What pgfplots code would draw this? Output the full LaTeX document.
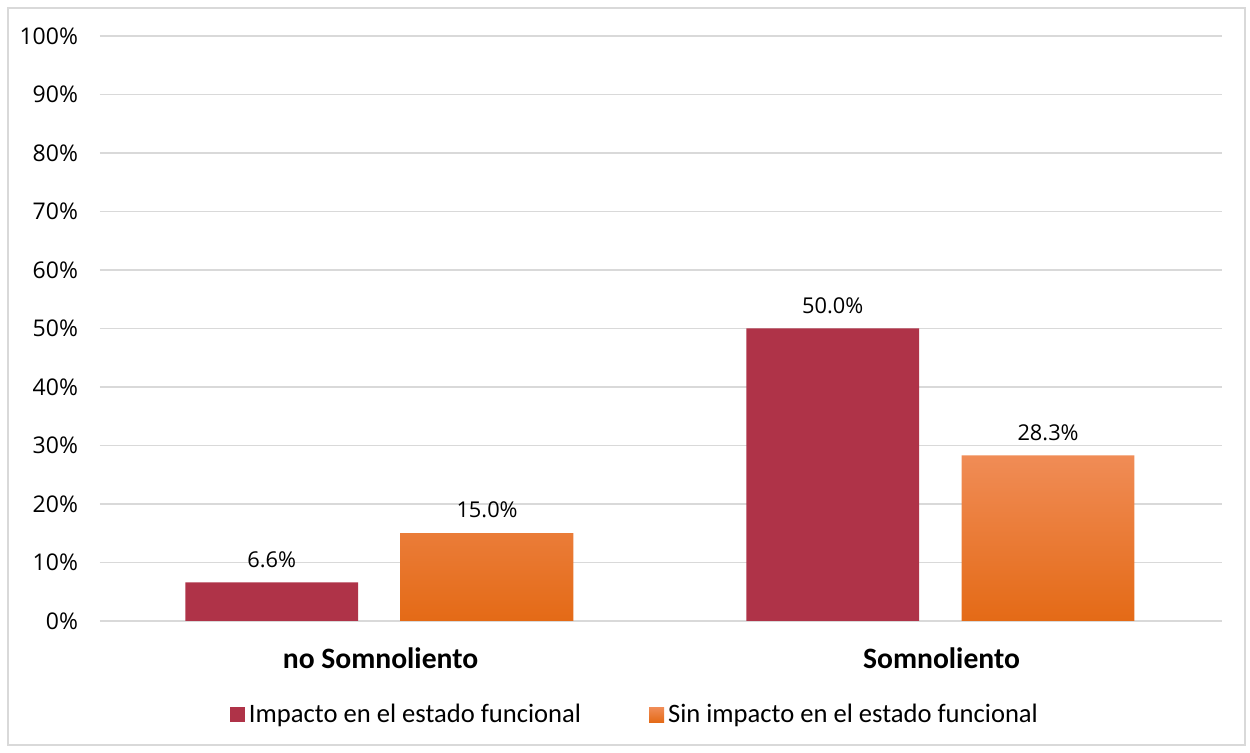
\documentclass[border=0pt]{standalone}
\usepackage{fontspec}
\setmainfont{Carlito}
\newfontfamily\osans{Open Sans}
\usepackage{pgfplots}
\pgfplotsset{compat=1.18}
\definecolor{barred}{RGB}{175,51,72}
\definecolor{orTop}{RGB}{240,140,86}
\definecolor{orMid}{RGB}{241,125,42}
\definecolor{orBot}{RGB}{228,106,22}
\definecolor{gridc}{RGB}{217,217,217}
\begin{document}
\begin{tikzpicture}
\begin{axis}[
  scale only axis,
  width=561pt, height=292.5pt,
  xmin=-0.5, xmax=1.5,
  ymin=0, ymax=100,
  ytick={0,10,...,100},
  yticklabel={\pgfmathprintnumber{\tick}\%},
  yticklabel style={font=\osans\fontsize{11.5}{13}\selectfont, xshift=-7.5pt},
  /pgf/number format/assume math mode=true,
  xtick={0,1},
  xticklabels={no Somnoliento, Somnoliento},
  xticklabel style={font=\bfseries\fontsize{14.8}{17}\selectfont, yshift=-10pt},
  major tick length=0pt,
  axis line style={draw=none},
  ymajorgrids,
  grid style={draw=gridc, line width=0.8pt},
  ybar,
  bar width=0.308,
  nodes near coords={\pgfmathprintnumber[fixed, fixed zerofill, precision=1, assume math mode=true]{\pgfplotspointmeta}\%},
  point meta=y,
  every node near coord/.append style={font=\osans\fontsize{10.9}{13}\selectfont, yshift=4pt},
  legend style={at={(0.4777,-0.1607)}, anchor=center, draw=none, fill=none,
    font=\fontsize{13.3}{15}\selectfont, legend columns=2,
    /tikz/every even column/.append style={column sep=32pt}},
  legend image code/.code={\path[#1, draw=none] (0pt,-3.7pt) rectangle (7.5pt,3.8pt);},
  clip=false,
]
\addplot[fill=barred, draw=none, bar shift=-0.194] coordinates {(0,6.6) (1,50.0)};
\addplot[top color=orTop, middle color=orMid, bottom color=orBot, draw=none, bar shift=0.19] coordinates {(0,15.0) (1,28.3)};
\legend{Impacto en el estado funcional, Sin impacto en el estado funcional}
\draw[gridc, line width=0.8pt] (rel axis cs:0,0) ++(-46pt,-62pt) rectangle ++(618.5pt,368.5pt);
\path (rel axis cs:0,0) ++(-50pt,-66pt) coordinate (bbA);
\path (rel axis cs:0,0) ++(575pt,310.5pt) coordinate (bbB);
\end{axis}
\useasboundingbox (bbA) rectangle (bbB);
\end{tikzpicture}
\end{document}
